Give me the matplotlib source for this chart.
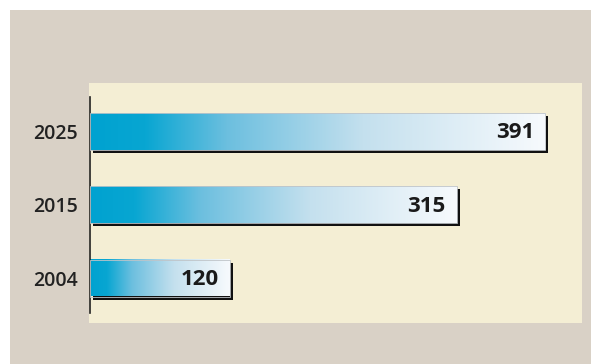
import numpy as np
import matplotlib
matplotlib.use("Agg")
import matplotlib.pyplot as plt
from matplotlib.colors import LinearSegmentedColormap
from matplotlib.patches import Rectangle
from matplotlib import transforms

# Values shown on the bars
years = ["2004", "2015", "2025"]
values = [120, 315, 391]

plt.rcParams['font.family'] = ['Open Sans', 'DejaVu Sans']

W, H = 591, 364
fig = plt.figure(figsize=(W / 100, H / 100), dpi=100, facecolor="white")

# beige backdrop, leaving a thin white margin on top and left
fig.add_artist(Rectangle((10 / W, 0), 1 - 10 / W, 1 - 10 / H, transform=fig.transFigure,
                         facecolor="#d9d1c6", edgecolor="none", zorder=-10))

# cream plotting panel
ax = fig.add_axes([89 / W, 1 - 323 / H, (582 - 89) / W, (323 - 83) / H])
ax.set_facecolor("#f4eed4")

px_x = 1.164   # pixels per unit along x
px_y = 73.25   # pixels per category along y

cmap = LinearSegmentedColormap.from_list("bar", [
    (0.0, "#00a2d0"), (0.12, "#08a6d2"), (0.3, "#6cbfdf"),
    (0.6, "#c4e0ee"), (1.0, "#f7fafd")])
grad = np.linspace(0, 1, 256).reshape(1, -1)
bar_h = 37 / px_y

shadow = ax.transData + transforms.ScaledTranslation(3 / 100, -3 / 100, fig.dpi_scale_trans)
for i, (yr, v) in enumerate(zip(years, values)):
    ax.barh(i, v, height=bar_h, color="#111111", transform=shadow, zorder=1)
    ax.imshow(grad, cmap=cmap, aspect="auto", interpolation="bilinear",
              extent=(0, v, i - bar_h / 2, i + bar_h / 2), zorder=2)
    ax.barh(i, v, height=bar_h, facecolor="none", edgecolor="#bfc4c8", linewidth=0.6, zorder=3)
    ax.annotate(str(v), (v, i), xytext=(-8, -1), textcoords="offset points",
                ha="right", va="center", fontsize=16, fontweight="bold",
                color="#1a1a1a", zorder=4)

for s in ["top", "right", "bottom"]:
    ax.spines[s].set_visible(False)
ax.spines["left"].set_position(("data", 0))
ax.spines["left"].set_bounds(2 + 48.5 / px_y - 14 / px_y, -45 / px_y + 10 / px_y)
ax.spines["left"].set_color("#222222")
ax.spines["left"].set_linewidth(1.2)

ax.set_xlim(-1 / px_x, (582 - 90) / px_x)
ax.set_ylim(-45 / px_y, 2 + 48.5 / px_y)
ax.set_yticks(range(len(years)))
ax.set_yticklabels(years, fontsize=14, fontweight="semibold", color="#222222")
ax.tick_params(axis="y", length=0, pad=9)
ax.set_xticks([])

fig.savefig("out.png", dpi=100, facecolor="white")
